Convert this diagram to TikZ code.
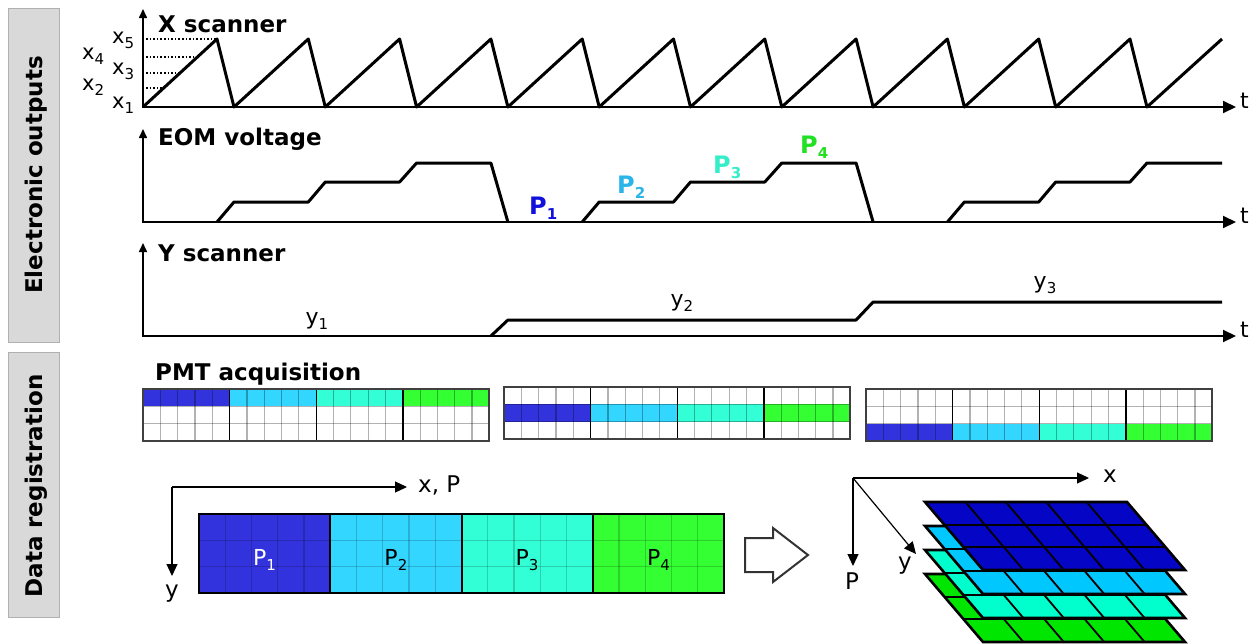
\documentclass[tikz,border=0pt]{standalone}
\usepackage{fontspec}
\setmainfont{DejaVu Sans}
\usetikzlibrary{arrows.meta}
\definecolor{sideg}{HTML}{D9D9D9}
\definecolor{sidee}{HTML}{B0B0B0}
\definecolor{cA}{HTML}{3333DD}
\definecolor{cB}{HTML}{33D6FF}
\definecolor{cC}{HTML}{33FFD6}
\definecolor{cD}{HTML}{33FF33}
\definecolor{tA}{HTML}{1111DD}
\definecolor{tB}{HTML}{2AB4E8}
\definecolor{tC}{HTML}{33EEC8}
\definecolor{tD}{HTML}{22E022}
\definecolor{lA}{HTML}{0505C5}
\definecolor{lB}{HTML}{00C8FF}
\definecolor{lC}{HTML}{00FFCC}
\definecolor{lD}{HTML}{00E600}
\newcommand\xs[2]{#1\raisebox{-5pt}{\fontsize{15}{15}\selectfont #2}}
\newcommand\Pb[1]{P\raisebox{-5pt}{\fontsize{15}{15}\selectfont\bfseries #1}}
\newcommand\Ps[1]{P\raisebox{-5pt}{\fontsize{15}{15}\selectfont #1}}
\newcommand\pmtgrid[3]{%
  \foreach \g/\c in {0/cA,1/cB,2/cC,3/cD}{
    \fill[\c] ({#1+\g*86.6},{#2+#3*17.3}) rectangle ++(86.6,17.3);
  }
  \foreach \i in {1,...,19}{ \draw[gridl] ({#1+\i*17.32},#2) -- ++(0,51.9); }
  \foreach \j in {1,2}{ \draw[gridl] (#1,{#2+\j*17.3}) -- ++(346.4,0); }
  \foreach \g in {1,2,3}{ \draw[grpl] ({#1+\g*86.6},#2) -- ++(0,51.9); }
  \draw[gbord] (#1,#2) rectangle ++(346.4,51.9);
}
\tikzset{
  sidebox/.style={fill=sideg, draw=sidee, line width=1pt},
  side/.style={rotate=90, inner sep=0pt, font=\fontsize{23}{23}\selectfont\bfseries},
  ttl/.style={anchor=base west, inner sep=0pt, font=\fontsize{23}{23}\selectfont\bfseries},
  tl/.style={anchor=west, inner sep=0pt, font=\fontsize{22}{22}\selectfont},
  xl/.style={anchor=mid west, inner sep=0pt, font=\fontsize{21}{21}\selectfont},
  yl/.style={anchor=mid, inner sep=0pt, font=\fontsize{22}{22}\selectfont},
  pl/.style={anchor=base west, inner sep=0pt, font=\fontsize{24}{24}\selectfont\bfseries},
  sl/.style={anchor=base, inner sep=0pt, font=\fontsize{22}{22}\selectfont},
  bl/.style={inner sep=0pt, font=\fontsize{23}{23}\selectfont},
  haxis/.style={line width=2pt, -{Triangle[length=13pt,width=12pt]}},
  vaxis/.style={line width=1.6pt, -{Triangle[length=9pt,width=8pt]}},
  thinarrow/.style={line width=1.2pt, -{Triangle[length=12pt,width=11pt]}},
  wave/.style={line width=3pt, line join=round},
  dotl/.style={line width=1.6pt, dotted},
  gridl/.style={draw=black, draw opacity=0.3, line width=1.2pt},
  grpl/.style={draw=black, line width=1.4pt},
  gbord/.style={draw=black!75, line width=2pt},
  stripl/.style={draw=black, draw opacity=0.18, line width=1.2pt},
  layer/.style={draw=black, line width=2.6pt, line join=miter},
  layerl/.style={draw=black, line width=1.8pt},
}
\begin{document}
\begin{tikzpicture}[x=1pt,y=-1pt]
\useasboundingbox (0,0) rectangle (1258,643);
\fill[white] (0,0) rectangle (1258,643);

% side boxes
\draw[sidebox] (8,8) rectangle (59,342);
\draw[sidebox] (8,352) rectangle (59,617);
\node[side] (eo) at (36,175) {Electronic outputs};
\node[side] (dr) at (36,486) {Data registration};

% X scanner
\draw[dotl] (146,39) -- (217,39);
\draw[dotl] (146,57) -- (197,57);
\draw[dotl] (146,73) -- (180,73);
\draw[dotl] (146,88) -- (164,88);
\draw[vaxis] (143,108) -- (143,9);
\draw[haxis] (142,107) -- (1236,107);
\node[ttl] (xs) at (158,32) {X scanner};
\node[tl] (t1) at (1240,101) {t};
\draw[wave] (143,107) \foreach \k in {0,...,10}{ -- ({217+\k*91.3},39) -- ({234+\k*91.3},107)} -- (1222,39);
\node[xl] (x1) at (112,106) {\xs{x}{1}};
\node[xl] (x2) at (82,88) {\xs{x}{2}};
\node[xl] (x3) at (112,72) {\xs{x}{3}};
\node[xl] (x4) at (82,57) {\xs{x}{4}};
\node[xl] (x5) at (112,41) {\xs{x}{5}};

% EOM voltage
\draw[vaxis] (143,223) -- (143,129);
\draw[haxis] (142,222) -- (1236,222);
\node[ttl] (eom) at (158,145) {EOM voltage};
\node[tl] (t2) at (1240,216) {t};
\draw[wave] (217,222) -- (234,202) -- (308.3,202) -- (325.3,182) -- (399.6,182) -- (416.6,163) -- (490.9,163) -- (507.9,222);
\draw[wave] (582.2,222) -- (599.2,202) -- (673.5,202) -- (690.5,182) -- (764.8,182) -- (781.8,163) -- (856.1,163) -- (873.1,222);
\draw[wave] (947.4,222) -- (964.4,202) -- (1038.7,202) -- (1055.7,182) -- (1130,182) -- (1147,163) -- (1222,163);
\node[pl, text=tA] (p1) at (529,214) {\Pb{1}};
\node[pl, text=tB] (p2) at (617,193) {\Pb{2}};
\node[pl, text=tC] (p3) at (713,173) {\Pb{3}};
\node[pl, text=tD] (p4) at (800,153) {\Pb{4}};

% Y scanner
\draw[vaxis] (143,337) -- (143,243);
\draw[haxis] (142,336) -- (1236,336);
\node[ttl] (ys) at (158,261) {Y scanner};
\node[tl] (t3) at (1240,330) {t};
\draw[wave] (490.9,336) -- (507.9,320) -- (856.1,320) -- (873.1,302) -- (1222,302);
\node[yl] (y1) at (317,322) {\xs{y}{1}};
\node[yl] (y2) at (682,304) {\xs{y}{2}};
\node[yl] (y3) at (1045,286) {\xs{y}{3}};

% PMT acquisition
\node[ttl] (pmt) at (155,380) {PMT acquisition};
\pmtgrid{143}{389}{0}
\pmtgrid{504}{387}{1}
\pmtgrid{866}{389}{2}

% 2D strip
\coordinate (o2) at (172,487);
\coordinate (xe) at (407,487);
\coordinate (ye) at (172,576);
\draw[thinarrow] (o2) -- (xe);
\draw[thinarrow] (o2) -- (ye);
\node[bl, anchor=mid west] (xP) at (418,490) {x, P};
\node[bl, anchor=mid] (yy) at (172,595) {y};
\foreach \g/\c in {0/cA,1/cB,2/cC,3/cD}{
  \fill[\c] ({199+\g*131.25},514) rectangle ++(131.25,79);
}
\foreach \i in {1,...,19}{ \draw[stripl] ({199+\i*26.25},514) -- ++(0,79); }
\foreach \j in {1,2}{ \draw[stripl] (199,{514+\j*26.33}) -- ++(525,0); }
\foreach \g in {1,2,3}{ \draw[line width=2pt] ({199+\g*131.25},514) -- ++(0,79); }
\draw[line width=2.5pt] (199,514) rectangle (724,593);
\node[sl, text=white] (s1) at (264.6,565) {\Ps{1}};
\node[sl] (s2) at (395.9,565) {\Ps{2}};
\node[sl] (s3) at (527.1,565) {\Ps{3}};
\node[sl] (s4) at (658.4,565) {\Ps{4}};

% hollow arrow
\draw[line width=2pt, draw=black!80, fill=white, line join=miter] (745,538) -- (773,538) -- (773,528) -- (808,555) -- (773,582) -- (773,572) -- (745,572) -- cycle;

% 3D axes
\coordinate (o3) at (853,478);
\coordinate (x3e) at (1089,478);
\coordinate (p3e) at (853,566);
\coordinate (y3e) at (916,554);
\draw[thinarrow] (o3) -- (x3e);
\draw[thinarrow] (o3) -- (p3e);
\draw[thinarrow] (o3) -- (y3e);
\node[bl, anchor=mid] (xl3) at (1110,480) {x};
\node[bl, anchor=mid] (pl3) at (852,587) {P};
\node[bl, anchor=mid] (yl3) at (905,567) {y};

% stacked layers
\foreach \yy/\c in {574/lD, 550/lC, 526/lB, 502/lA}{
  \fill[\c] (925,\yy) -- (1127,\yy) -- (1185,{\yy+68}) -- (983,{\yy+68}) -- cycle;
  \foreach \i in {1,...,4}{ \draw[layerl] ({925+\i*40.4},\yy) -- ({983+\i*40.4},{\yy+68}); }
  \foreach \j in {1,2}{ \draw[layerl] ({925+\j*19.33},{\yy+\j*22.67}) -- ({1127+\j*19.33},{\yy+\j*22.67}); }
  \draw[layer] (925,\yy) -- (1127,\yy) -- (1185,{\yy+68}) -- (983,{\yy+68}) -- cycle;
}
\end{tikzpicture}
\end{document}
